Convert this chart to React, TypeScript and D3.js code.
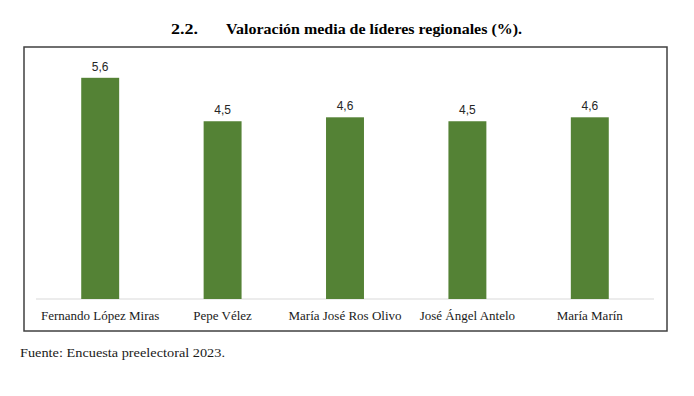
import React from "react";
import * as d3 from "d3";

const categories: string[] = [
  "Fernando López Miras",
  "Pepe Vélez",
  "María José Ros Olivo",
  "José Ángel Antelo",
  "María Marín",
];
const values: number[] = [5.6, 4.5, 4.6, 4.5, 4.6];
const valueLabels: string[] = ["5,6", "4,5", "4,6", "4,5", "4,6"];
const titleNumber = "2.2.";
const titleText = "Valoración media de líderes regionales (%).";
const sourceText = "Fuente: Encuesta preelectoral 2023.";

const W = 694;
const H = 396;

export default function App() {
  const x = d3
    .scaleBand<string>()
    .domain(categories)
    .range([39, 651])
    .paddingInner(0.69)
    .paddingOuter(0.345);
  const y = d3.scaleLinear().domain([0, 6]).range([299, 62]);
  const serif = "'Liberation Serif', 'Times New Roman', serif";
  const sans = "'Liberation Sans', Arial, sans-serif";
  return (
    <svg
      width={W}
      height={H}
      style={{ position: "absolute", left: 0, top: 0, background: "#fff" }}
    >
      <text x={171} y={34} fontFamily={serif} fontWeight="bold" fontSize={15} fill="#000"
        textLength={27} lengthAdjust="spacingAndGlyphs">
        {titleNumber}
      </text>
      <text x={226} y={34} fontFamily={serif} fontWeight="bold" fontSize={15} fill="#000"
        textLength={296} lengthAdjust="spacingAndGlyphs">
        {titleText}
      </text>
      <rect x={24} y={47} width={643} height={284} fill="#fff" stroke="#404040" strokeWidth={1.5} />
      <line x1={36} x2={654} y1={y(0)} y2={y(0)} stroke="#d9d9d9" strokeWidth={1} />
      {categories.map((c, i) => (
        <g key={c}>
          <rect
            x={x(c)!}
            y={y(values[i])}
            width={x.bandwidth()}
            height={y(0) - y(values[i])}
            fill="#548235"
          />
          <text
            x={x(c)! + x.bandwidth() / 2}
            y={y(values[i]) - 7}
            textAnchor="middle"
            fontFamily={sans}
            fontSize={12}
            fill="#262626"
          >
            {valueLabels[i]}
          </text>
          <text
            x={x(c)! + x.bandwidth() / 2}
            y={320}
            textAnchor="middle"
            fontFamily={serif}
            fontSize={13}
            fill="#1a1a1a"
          >
            {c}
          </text>
        </g>
      ))}
      <text x={20} y={357} fontFamily={serif} fontSize={13.5} fill="#1a1a1a"
        textLength={205} lengthAdjust="spacingAndGlyphs">
        {sourceText}
      </text>
    </svg>
  );
}
